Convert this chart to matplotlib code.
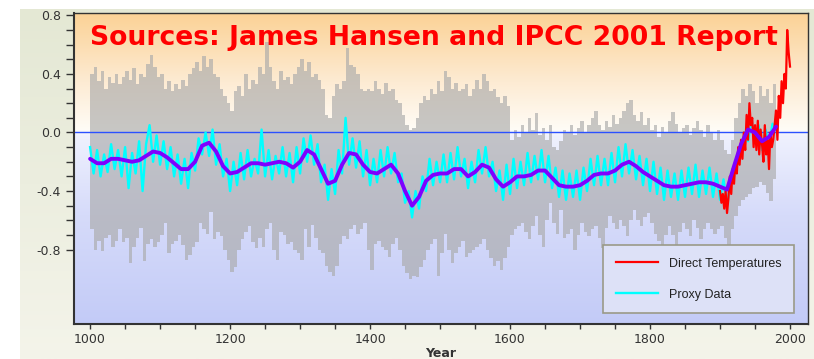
import matplotlib
matplotlib.use('Agg')
import matplotlib.pyplot as plt
import numpy as np
from matplotlib.colors import LinearSegmentedColormap
from matplotlib.ticker import FixedLocator

# ---------------- data ----------------
band_years = list(range(1000, 1985, 5))
band_upper = [
    0.40, 0.45, 0.35, 0.42, 0.30, 0.38, 0.34, 0.40, 0.33, 0.38,
    0.42, 0.36, 0.44, 0.33, 0.40, 0.38, 0.47, 0.53, 0.45, 0.38,
    0.40, 0.30, 0.35, 0.28, 0.33, 0.30, 0.36, 0.32, 0.40, 0.44,
    0.48, 0.42, 0.52, 0.45, 0.50, 0.40, 0.38, 0.30, 0.25, 0.20,
    0.15, 0.28, 0.32, 0.25, 0.40, 0.30, 0.36, 0.33, 0.45, 0.40,
    0.62, 0.45, 0.35, 0.30, 0.42, 0.36, 0.38, 0.33, 0.40, 0.45,
    0.50, 0.42, 0.48, 0.38, 0.40, 0.36, 0.30, 0.12, 0.10, 0.25,
    0.33, 0.30, 0.35, 0.58, 0.46, 0.45, 0.40, 0.30, 0.28, 0.30,
    0.28, 0.35, 0.30, 0.26, 0.34, 0.28, 0.30, 0.22, 0.20, 0.12,
    0.05, 0.02, 0.03, 0.10, 0.20, 0.25, 0.22, 0.30, 0.26, 0.35,
    0.28, 0.42, 0.38, 0.30, 0.34, 0.28, 0.30, 0.33, 0.25, 0.30,
    0.36, 0.30, 0.40, 0.35, 0.28, 0.30, 0.24, 0.20, 0.25, 0.18,
    -0.05, 0.02, -0.03, 0.05, 0.00, 0.10, 0.02, 0.13, -0.02, 0.03,
    -0.05, 0.05, -0.10, -0.12, -0.06, 0.02, 0.00, 0.05, -0.02, 0.03,
    0.08, 0.00, 0.05, 0.10, 0.15, 0.05, 0.02, 0.08, 0.04, 0.12,
    0.06, 0.10, 0.15, 0.20, 0.22, 0.12, 0.08, 0.14, 0.05, 0.10,
    0.02, 0.05, -0.03, 0.04, 0.00, 0.08, 0.14, 0.06, 0.00, 0.03,
    0.05, -0.02, 0.03, 0.08, 0.02, -0.03, 0.05, 0.00, -0.05, 0.02,
    -0.05, -0.12, -0.15, -0.05, 0.10, 0.20, 0.30, 0.25, 0.33, 0.28,
    0.20, 0.32, 0.25, 0.30, 0.20, 0.33, 0.28,
]
band_lower = [
    -0.66, -0.80, -0.74, -0.81, -0.72, -0.70, -0.78, -0.74, -0.66, -0.75,
    -0.72, -0.89, -0.78, -0.72, -0.65, -0.88, -0.76, -0.73, -0.78, -0.75,
    -0.70, -0.62, -0.82, -0.76, -0.74, -0.70, -0.77, -0.87, -0.84, -0.78,
    -0.75, -0.62, -0.66, -0.69, -0.54, -0.73, -0.68, -0.71, -0.80, -0.87,
    -0.95, -0.92, -0.80, -0.73, -0.68, -0.64, -0.75, -0.79, -0.72, -0.78,
    -0.66, -0.62, -0.80, -0.87, -0.68, -0.70, -0.76, -0.75, -0.80, -0.82,
    -0.87, -0.66, -0.78, -0.63, -0.72, -0.80, -0.82, -0.91, -0.95, -0.98,
    -0.91, -0.76, -0.71, -0.73, -0.66, -0.63, -0.69, -0.66, -0.62, -0.80,
    -0.94, -0.76, -0.74, -0.78, -0.80, -0.85, -0.76, -0.72, -0.80, -0.91,
    -0.96, -1.00, -0.98, -0.99, -0.92, -0.87, -0.80, -0.76, -0.73, -0.98,
    -0.82, -0.69, -0.80, -0.89, -0.82, -0.78, -0.74, -0.85, -0.82, -0.80,
    -0.78, -0.76, -0.73, -0.80, -0.86, -0.91, -0.88, -0.94, -0.86, -0.78,
    -0.70, -0.66, -0.64, -0.62, -0.68, -0.73, -0.64, -0.57, -0.70, -0.78,
    -0.60, -0.48, -0.62, -0.69, -0.53, -0.72, -0.69, -0.66, -0.80, -0.70,
    -0.62, -0.68, -0.71, -0.66, -0.64, -0.72, -0.79, -0.65, -0.57, -0.62,
    -0.66, -0.60, -0.64, -0.71, -0.60, -0.53, -0.60, -0.64, -0.58, -0.55,
    -0.62, -0.69, -0.74, -0.78, -0.70, -0.64, -0.70, -0.79, -0.68, -0.62,
    -0.66, -0.71, -0.60, -0.65, -0.73, -0.66, -0.62, -0.66, -0.69, -0.66,
    -0.64, -0.72, -0.77, -0.66, -0.57, -0.50, -0.46, -0.44, -0.42, -0.38,
    -0.37, -0.34, -0.36, -0.41, -0.47, -0.32, -0.38,
]
proxy_values = [
    -0.10, -0.28, -0.12, -0.30, -0.15, -0.27, -0.08, -0.25, -0.12, -0.30,
    -0.10, -0.38, -0.14, -0.28, -0.06, -0.40, -0.08, 0.05, -0.20, -0.02,
    -0.22, -0.06, -0.25, -0.10, -0.30, -0.15, -0.35, -0.18, -0.38, -0.14,
    -0.26, -0.04, -0.15, 0.00, -0.16, 0.02, -0.22, -0.08, -0.30, -0.18,
    -0.40, -0.20, -0.36, -0.14, -0.32, -0.12, -0.30, -0.18, -0.28, 0.02,
    -0.30, -0.12, -0.32, -0.16, -0.28, -0.10, -0.30, -0.14, -0.34, -0.10,
    -0.28, -0.04, -0.20, -0.02, -0.22, -0.08, -0.34, -0.22, -0.46, -0.25,
    -0.42, -0.12, -0.28, 0.10, -0.22, -0.04, -0.24, -0.06, -0.30, -0.12,
    -0.36, -0.18, -0.34, -0.12, -0.30, -0.10, -0.28, -0.14, -0.34, -0.28,
    -0.48, -0.40, -0.58, -0.40, -0.52, -0.30, -0.40, -0.18, -0.36, -0.20,
    -0.34, -0.15, -0.34, -0.14, -0.32, -0.10, -0.30, -0.18, -0.38, -0.20,
    -0.34, -0.12, -0.28, -0.10, -0.30, -0.20, -0.40, -0.26, -0.46, -0.22,
    -0.42, -0.18, -0.38, -0.20, -0.36, -0.14, -0.34, -0.16, -0.32, -0.12,
    -0.34, -0.16, -0.38, -0.24, -0.44, -0.26, -0.46, -0.28, -0.44, -0.26,
    -0.46, -0.24, -0.40, -0.18, -0.36, -0.16, -0.36, -0.18, -0.36, -0.14,
    -0.34, -0.10, -0.30, -0.08, -0.28, -0.12, -0.32, -0.16, -0.36, -0.18,
    -0.40, -0.20, -0.42, -0.24, -0.46, -0.26, -0.44, -0.28, -0.46, -0.26,
    -0.44, -0.24, -0.42, -0.22, -0.44, -0.26, -0.42, -0.24, -0.44, -0.28,
    -0.46, -0.32, -0.50, -0.34, -0.30, -0.18, -0.14, 0.00, -0.06, 0.08,
    -0.04, 0.05, -0.12, 0.02, -0.08, 0.06, 0.02,
]
smooth_years = list(range(1000, 1990, 10))
smooth_values = [
    -0.18, -0.21, -0.21, -0.18, -0.18, -0.19, -0.20, -0.19, -0.16, -0.13,
    -0.14, -0.17, -0.21, -0.25, -0.25, -0.20, -0.09, -0.07, -0.13, -0.23,
    -0.28, -0.27, -0.24, -0.21, -0.21, -0.22, -0.21, -0.20, -0.21, -0.24,
    -0.20, -0.12, -0.15, -0.25, -0.35, -0.33, -0.22, -0.14, -0.15, -0.22,
    -0.27, -0.28, -0.25, -0.22, -0.28, -0.40, -0.50, -0.44, -0.33, -0.29,
    -0.28, -0.28, -0.25, -0.25, -0.30, -0.27, -0.22, -0.24, -0.32, -0.37,
    -0.34, -0.30, -0.30, -0.29, -0.26, -0.26, -0.31, -0.36, -0.37, -0.37,
    -0.36, -0.33, -0.29, -0.28, -0.28, -0.26, -0.22, -0.20, -0.23, -0.27,
    -0.30, -0.33, -0.36, -0.37, -0.37, -0.36, -0.35, -0.34, -0.34, -0.35,
    -0.37, -0.39, -0.23, -0.08, 0.02, 0.00, -0.06, -0.03, 0.04,
]
direct_years = list(range(1900, 2002, 2))
direct_values = [
    -0.40, -0.48, -0.42, -0.52, -0.40, -0.55, -0.45, -0.30, -0.42, -0.25,
    -0.35, -0.20, -0.28, -0.10, -0.22, -0.05, -0.18, 0.00, -0.12, 0.12,
    -0.05, 0.20, 0.05, 0.10, -0.10, 0.05, -0.12, 0.08, -0.15, 0.02,
    -0.08, -0.20, 0.05, -0.15, -0.05, -0.25, 0.00, -0.10, -0.05, 0.05,
    0.15, -0.05, 0.25, 0.10, 0.35, 0.20, 0.40, 0.30, 0.70, 0.55, 0.45,
]
title_text = "Sources: James Hansen and IPCC 2001 Report"
legend_labels = ["Direct Temperatures", "Proxy Data"]
xtick_labels = [1000, 1200, 1400, 1600, 1800, 2000]
ytick_labels = [-0.8, -0.4, 0.0, 0.4, 0.8]

# ---------------- figure ----------------
plt.rcParams['axes.unicode_minus'] = False
W, H = 814, 359
fig = plt.figure(figsize=(W / 100, H / 100), dpi=100)
fig.patch.set_facecolor('white')

# beige panel background
bg = fig.add_axes([20 / W, 0, (W - 20) / W, (H - 9) / H])
bg.axis('off')
bg_cmap = LinearSegmentedColormap.from_list('bgc', ['#f4f4ea', '#e4e8d4'])
bg.imshow(np.linspace(0, 1, 256)[::-1].reshape(-1, 1), cmap=bg_cmap,
          extent=[0, 1, 0, 1], aspect='auto')
bg.set_xlim(0, 1)
bg.set_ylim(0, 1)

ax = fig.add_axes([74 / W, (H - 324) / H, 734 / W, 311 / H])
ylo, yhi = -1.308, 0.816
zero_frac = (0 - ylo) / (yhi - ylo)
ax_cmap = LinearSegmentedColormap.from_list('axc', [
    (0.0, '#c3cbf7'),
    (0.35, '#d6dbfa'),
    (zero_frac - 0.01, '#eff1fe'),
    (zero_frac + 0.01, '#fffcf6'),
    (0.78, '#fdebd3'),
    (1.0, '#fbd296'),
])
ax.imshow(np.linspace(0, 1, 512)[::-1].reshape(-1, 1), cmap=ax_cmap,
          extent=[0, 1, 0, 1], transform=ax.transAxes, aspect='auto', zorder=0)

ax.fill_between(band_years, band_lower, band_upper, step='post',
                color=(170 / 255, 170 / 255, 170 / 255), alpha=0.65, lw=0, zorder=1)
ax.axhline(0, color='#2a50ff', lw=1.0, zorder=2)
proxy_line, = ax.plot(band_years, proxy_values, color='#00ffff', lw=1.7, zorder=3)
direct_line, = ax.plot(direct_years, direct_values, color='#ff0000', lw=1.6, zorder=4)
ax.plot(smooth_years, smooth_values, color='#7f00ff', lw=2.8, zorder=5,
        solid_capstyle='round')

ax.set_xlim(977, 2025.7)
ax.set_ylim(ylo, yhi)

# ticks
ax.xaxis.set_major_locator(FixedLocator(xtick_labels))
ax.xaxis.set_minor_locator(FixedLocator(list(range(1050, 2000, 50))))
ax.set_xticklabels([str(v) for v in xtick_labels])
ax.yaxis.set_major_locator(FixedLocator(ytick_labels))
ax.yaxis.set_minor_locator(FixedLocator([-0.7, -0.6, -0.5, -0.3, -0.2, -0.1,
                                         0.1, 0.2, 0.3, 0.5, 0.6, 0.7]))
ax.set_yticklabels(['%.1f' % v for v in ytick_labels])
ax.tick_params(axis='y', which='both', direction='out', length=5.5, width=1.0,
               color='#333333', labelsize=9, labelcolor='#333333', pad=4)
ax.tick_params(axis='x', which='both', direction='out', length=3.5, width=1.0,
               color='#333333', labelsize=9, labelcolor='#333333', pad=3)
for lab in ax.get_xticklabels() + ax.get_yticklabels():
    lab.set_family('DejaVu Sans')
for sp in ax.spines.values():
    sp.set_color('#333333')
    sp.set_linewidth(1.0)
ax.spines['left'].set_linewidth(1.5)
ax.spines['bottom'].set_linewidth(1.5)

ax.set_xlabel('Year', fontsize=9, fontweight='bold', color='#333333', labelpad=0.5)

leg = ax.legend([direct_line, proxy_line], legend_labels, loc='lower right',
                bbox_to_anchor=(0.981, 0.035), borderaxespad=0,
                prop={'family': 'Liberation Sans', 'size': 9},
                handlelength=3.4, handletextpad=0.85, labelspacing=1.5,
                borderpad=1.0, frameon=True, fancybox=False,
                facecolor='#dde1f7', edgecolor='#9a9a88', framealpha=1)
leg.get_frame().set_linewidth(1.2)
for t in leg.get_texts():
    t.set_color('#222222')
leg.set_zorder(10)

fig.text(434 / W, 1 - 45 / H, title_text, color='#ff0000', fontsize=19.2,
         fontweight='bold', family='DejaVu Sans', ha='center', va='baseline',
         zorder=20)

fig.savefig('out.png', dpi=100)
